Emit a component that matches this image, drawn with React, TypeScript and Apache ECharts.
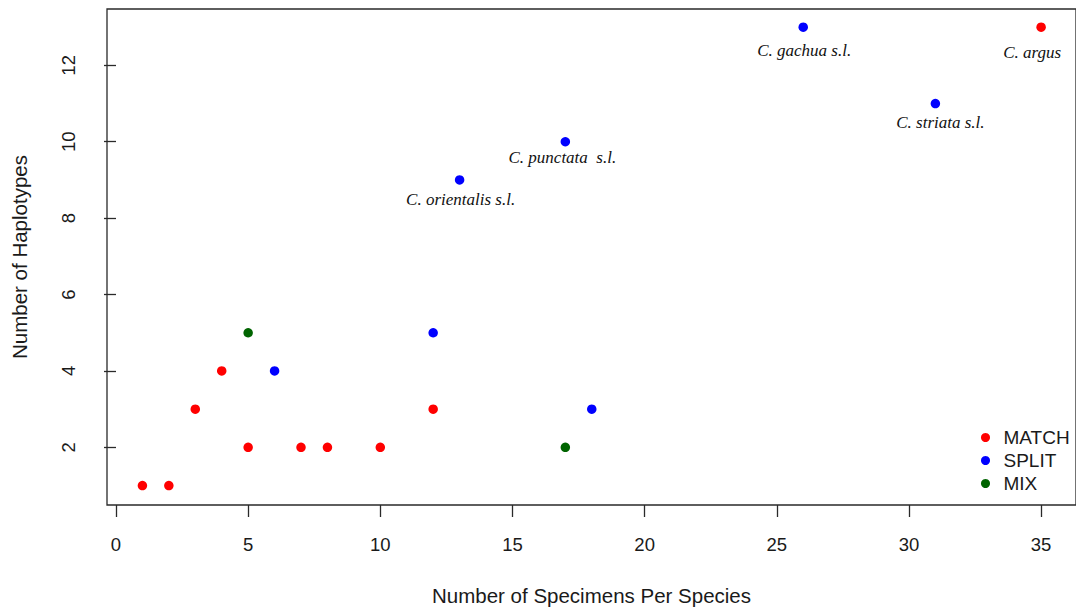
import React, { useEffect, useRef } from "react";
import * as echarts from "echarts";

// Data
const matchPoints: [number, number][] = [
  [1, 1], [2, 1], [3, 3], [4, 4], [5, 2], [7, 2], [8, 2], [10, 2], [12, 3], [35, 13],
];
const splitPoints: [number, number][] = [
  [6, 4], [12, 5], [13, 9], [17, 10], [18, 3], [26, 13], [31, 11],
];
const mixPoints: [number, number][] = [[5, 5], [17, 2]];

// Species names attached to points (key "x,y" in their group)
const matchNames: Record<string, string> = { "35,13": "C. argus" };
const splitNames: Record<string, string> = {
  "13,9": "C. orientalis s.l.",
  "17,10": "C. punctata  s.l.",
  "26,13": "C. gachua s.l.",
  "31,11": "C. striata s.l.",
};

const xTicks = [0, 5, 10, 15, 20, 25, 30, 35];
const yTicks = [2, 4, 6, 8, 10, 12];

// label placement tweaks (pixels, relative to point centre)
const labelShift: Record<string, [number, number]> = {
  "C. argus": [-9, 25],
  "C. orientalis s.l.": [1, 20],
  "C. punctata  s.l.": [-3, 16],
  "C. gachua s.l.": [1, 23],
  "C. striata s.l.": [5, 19],
};

const RED = "#ff0000";
const BLUE = "#0000ff";
const GREEN = "#006400";

function buildData(points: [number, number][], names: Record<string, string>) {
  return points.map(([x, y]) => {
    const name = names[`${x},${y}`];
    if (!name) return { value: [x, y] };
    return {
      value: [x, y],
      name,
      label: {
        show: true,
        position: "inside",
        offset: labelShift[name] || [0, 20],
        formatter: name,
        fontFamily: "'Liberation Serif', 'Times New Roman', serif",
        fontStyle: "italic",
        fontSize: 17,
        color: "#111",
      },
    };
  });
}

export default function App() {
  const ref = useRef<HTMLDivElement>(null);
  useEffect(() => {
    if (!ref.current) return;
    const chart = echarts.init(ref.current, null, { renderer: "svg" });
    const sans = "'Liberation Sans', Arial, sans-serif";
    const axisCommon = {
      type: "value" as const,
      splitLine: { show: false },
      axisLine: { show: false },
      nameTextStyle: { fontFamily: sans, fontSize: 20.5, color: "#1a1a1a" },
    };
    const scatterCommon = {
      type: "scatter" as const,
      symbolSize: 9.5,
    };
    chart.setOption({
      animation: false,
      backgroundColor: "#ffffff",
      grid: {
        left: 107,
        top: 9,
        right: -2,
        bottom: 103,
        show: true,
        borderColor: "#2a2a2a",
        borderWidth: 1.3,
        containLabel: false,
      },
      xAxis: {
        ...axisCommon,
        min: -0.34,
        max: 36.32,
        name: "Number of Specimens Per Species",
        nameLocation: "middle",
        nameGap: 80,
        axisTick: {
          show: true,
          customValues: xTicks,
          length: 12,
          lineStyle: { color: "#2a2a2a", width: 1.3 },
        },
        axisLabel: {
          customValues: xTicks,
          fontFamily: sans,
          fontSize: 18.5,
          color: "#1a1a1a",
          margin: 30,
        },
      },
      yAxis: {
        ...axisCommon,
        min: 0.491,
        max: 13.475,
        name: "Number of Haplotypes",
        nameLocation: "middle",
        nameGap: 77,
        axisTick: {
          show: true,
          customValues: yTicks,
          length: 12,
          lineStyle: { color: "#2a2a2a", width: 1.3 },
        },
        axisLabel: {
          customValues: yTicks,
          rotate: 90,
          fontFamily: sans,
          fontSize: 18.5,
          color: "#1a1a1a",
          margin: 29,
        },
      },
      legend: {
        data: ["MATCH", "SPLIT", "MIX"],
        orient: "vertical",
        left: 976,
        top: 423,
        itemWidth: 26,
        itemHeight: 9,
        itemGap: 4,
        icon: "circle",
        textStyle: { fontFamily: sans, fontSize: 19, color: "#1a1a1a" },
      },
      series: [
        {
          ...scatterCommon,
          name: "MATCH",
          itemStyle: { color: RED, opacity: 1 },
          data: buildData(matchPoints, matchNames),
        },
        {
          ...scatterCommon,
          name: "SPLIT",
          itemStyle: { color: BLUE, opacity: 1 },
          data: buildData(splitPoints, splitNames),
        },
        {
          ...scatterCommon,
          name: "MIX",
          itemStyle: { color: GREEN, opacity: 1 },
          data: buildData(mixPoints, {}),
        },
      ],
    });
    return () => chart.dispose();
  }, []);
  return (
    <div
      ref={ref}
      style={{ position: "absolute", left: 0, top: 0, width: 1076, height: 611 }}
    />
  );
}
